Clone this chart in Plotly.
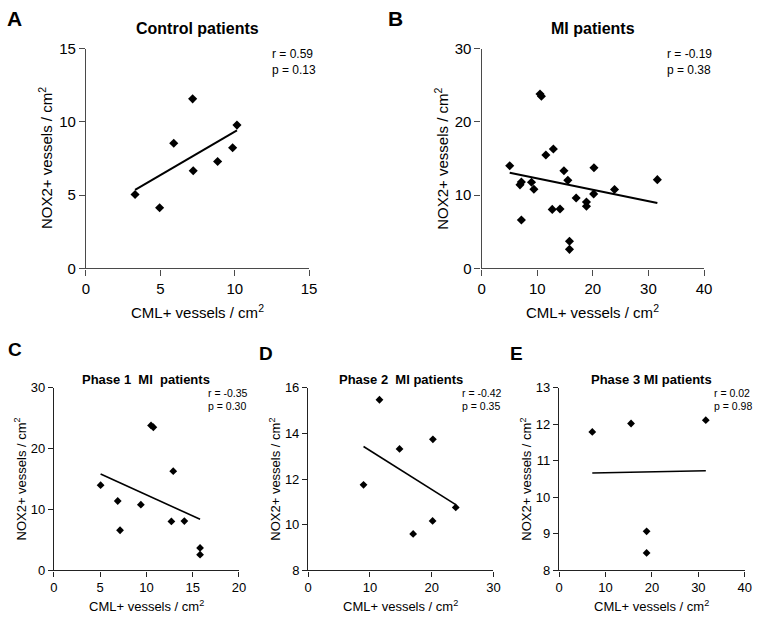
import numpy as np
import plotly.graph_objects as go

# ---------------- data ----------------
control_cml = [3.3, 4.95, 5.9, 7.17, 7.21, 8.85, 9.86, 10.15]
control_nox = [5.04, 4.14, 8.54, 11.57, 6.66, 7.30, 8.23, 9.78]

phase1_cml = [5.05, 6.9, 7.15, 9.4, 10.5, 10.75, 12.7, 12.9, 14.1, 15.8, 15.8]
phase1_nox = [14.0, 11.4, 6.6, 10.8, 23.8, 23.5, 8.05, 16.3, 8.1, 3.7, 2.6]

phase2_cml = [8.97, 11.55, 14.8, 17.0, 20.15, 20.2, 23.9]
phase2_nox = [11.75, 15.47, 13.32, 9.6, 10.17, 13.74, 10.76]

phase3_cml = [7.15, 15.5, 18.85, 18.85, 31.6]
phase3_nox = [11.79, 12.02, 9.07, 8.48, 12.11]

mi_cml = phase1_cml + phase2_cml + phase3_cml
mi_nox = phase1_nox + phase2_nox + phase3_nox

panel_letters = ["A", "B", "C", "D", "E"]
panel_titles = ["Control patients", "MI patients",
                "Phase 1\u00a0\u00a0MI\u00a0\u00a0patients",
                "Phase 2\u00a0\u00a0MI patients",
                "Phase 3 MI patients"]
stats_r = ["r = 0.59", "r = -0.19", "r = -0.35", "r = -0.42", "r = 0.02"]
stats_p = ["p = 0.13", "p = 0.38", "p = 0.30", "p = 0.35", "p = 0.98"]
x_ranges = [[0, 15], [0, 40], [0, 20], [0, 30], [0, 40]]
x_dticks = [5, 10, 5, 10, 10]
y_ranges = [[0, 15], [0, 30], [0, 30], [8, 16], [8, 13]]
y_dticks = [5, 10, 10, 2, 1]

datasets = [(control_cml, control_nox), (mi_cml, mi_nox),
            (phase1_cml, phase1_nox), (phase2_cml, phase2_nox),
            (phase3_cml, phase3_nox)]

# ---------------- layout geometry (pixels) ----------------
W, H = 759, 621
def PX(x): return x / W
def PY(y): return 1 - y / H

# plot areas: (left, right, top, bottom) in px
areas = [(83.3, 310.0, 40.7, 266.7),
         (485.3, 711.3, 40.7, 266.7),
         (50.7, 238.7, 389.3, 577.3),
         (309.0, 497.3, 389.3, 577.3),
         (564.0, 752.7, 389.3, 577.3)]
top = [True, True, False, False, False]

FONT = "Arial, Liberation Sans, sans-serif"
fig = go.Figure()
annotations = []

for i, ((xs, ys), (l, r, t, b)) in enumerate(zip(datasets, areas)):
    n = "" if i == 0 else str(i + 1)
    xa = "x" + n
    ya = "y" + n
    big = top[i]
    fig.add_trace(go.Scatter(
        x=xs, y=ys, mode="markers", xaxis=xa, yaxis=ya,
        marker=dict(symbol="diamond", size=7 if big else 6, color="black"),
        cliponaxis=False, showlegend=False, hoverinfo="x+y"))
    slope, icpt = np.polyfit(xs, ys, 1)
    lx = np.array([min(xs), max(xs)])
    fig.add_trace(go.Scatter(
        x=lx, y=slope * lx + icpt, mode="lines", xaxis=xa, yaxis=ya,
        line=dict(color="black", width=2 if big else 1.6),
        cliponaxis=False, showlegend=False, hoverinfo="skip"))

    tickfont = dict(family=FONT, size=15 if big else 13, color="black")
    axcol = "#4a4a4a" if big else "#222222"
    fig.update_layout(**{
        ("xaxis" + n): dict(domain=[PX(l), PX(r)], range=x_ranges[i],
                            dtick=x_dticks[i], tick0=0, anchor=ya,
                            showline=True, linecolor=axcol, linewidth=1.3,
                            ticks="outside", ticklen=6 if big else 5,
                            tickwidth=1.3, tickcolor=axcol,
                            showgrid=False, zeroline=False,
                            tickfont=tickfont, fixedrange=True),
        ("yaxis" + n): dict(domain=[PY(b), PY(t)], range=y_ranges[i],
                            dtick=y_dticks[i], tick0=0, anchor=xa,
                            showline=True, linecolor=axcol, linewidth=1.3,
                            ticks="outside", ticklen=6 if big else 5,
                            tickwidth=1.3, tickcolor=axcol,
                            showgrid=False, zeroline=False,
                            tickfont=tickfont, fixedrange=True),
    })

    cx = (l + r) / 2
    cy = (t + b) / 2
    annotations.append(dict(
        text="<b>" + panel_titles[i] + "</b>", x=PX(cx),
        y=PY(20 if big else 381), xref="paper", yref="paper",
        showarrow=False, xanchor="center", yanchor="middle",
        font=dict(family=FONT, size=16 if big else 13, color="black")))
    annotations.append(dict(
        text="CML+ vessels / cm<sup>2</sup>", x=PX(cx),
        y=PY(b + (44 if big else 37)), xref="paper", yref="paper",
        showarrow=False, xanchor="center", yanchor="middle",
        font=dict(family=FONT, size=15 if big else 13, color="black")))
    annotations.append(dict(
        text="NOX2+ vessels / cm<sup>2</sup>", x=PX(l - (41 if big else 34)),
        y=PY(cy), xref="paper", yref="paper", textangle=-90,
        showarrow=False, xanchor="center", yanchor="middle",
        font=dict(family=FONT, size=15 if big else 13, color="black")))
    sx = [270, 671.7, 205, 463.3, 719.3][i]
    sy1 = 46 if big else 395
    sy2 = 63 if big else 408.5
    for txt, sy in ((stats_r[i], sy1), (stats_p[i], sy2)):
        annotations.append(dict(
            text=txt, x=PX(sx), y=PY(sy), xref="paper", yref="paper",
            showarrow=False, xanchor="left", yanchor="middle",
            font=dict(family=FONT, size=12 if big else 10.5, color="black")))

letter_pos = [(1, 10), (388, 10), (2, 350), (257, 354), (512, 354)]
for let, (lx_, ly_) in zip(panel_letters, letter_pos):
    annotations.append(dict(
        text="<b>" + let + "</b>", x=PX(lx_), y=PY(ly_), xref="paper",
        yref="paper", showarrow=False, xanchor="left", yanchor="middle",
        font=dict(family=FONT, size=21 if let in "AB" else 19, color="black")))

fig.update_layout(
    width=W, height=H, margin=dict(l=0, r=0, t=0, b=0),
    paper_bgcolor="white", plot_bgcolor="white",
    annotations=annotations, showlegend=False)

fig.write_html("out.html", config={"displayModeBar": False},
               post_script="document.body.style.margin='0';"
                           "document.body.style.overflow='hidden';")
